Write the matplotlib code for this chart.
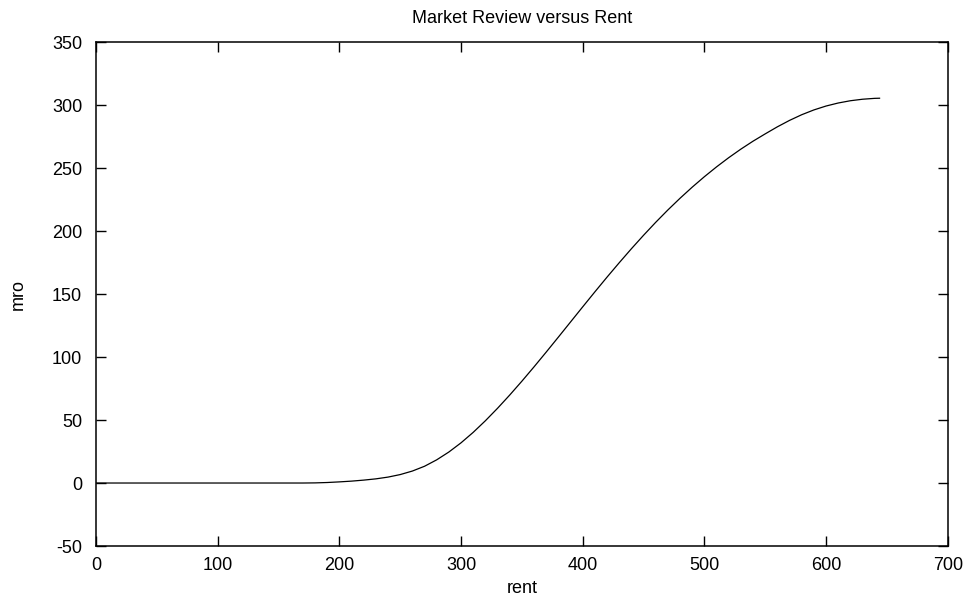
import matplotlib.pyplot as plt
import numpy as np

plt.rcParams['font.family'] = ['Liberation Sans', 'DejaVu Sans']
plt.rcParams['axes.unicode_minus'] = False

rent = [0, 10, 20, 30, 40, 50, 60, 70, 80, 90, 100, 110, 120, 130, 140, 150,
        160, 170, 180, 190, 200, 210, 220, 230, 240, 250, 260, 270, 280, 290,
        300, 310, 320, 330, 340, 350, 360, 370, 380, 390, 400, 410, 420, 430,
        440, 450, 460, 470, 480, 490, 500, 510, 520, 530, 540, 550, 560, 570,
        580, 590, 600, 610, 620, 630, 640, 644]
mro = [0, 0, 0, 0, 0, 0, 0, 0, 0, 0, 0, 0, 0, 0, 0, 0,
       0, 0, 0.1, 0.4, 0.9, 1.5, 2.3, 3.3, 4.7, 6.7, 9.5, 13.3, 18.4, 24.6,
       31.9, 40.2, 49.4, 59.3, 69.8, 80.8, 92.2, 103.9, 115.8, 127.8, 139.8, 151.7, 163.4, 174.8,
       185.9, 196.6, 206.9, 216.7, 226.0, 234.8, 243.1, 250.9, 258.2, 265.0, 271.3, 277.1, 282.7, 287.8,
       292.3, 296.1, 299.2, 301.6, 303.4, 304.6, 305.3, 305.4]

fig = plt.figure(figsize=(9.7, 5.97), dpi=100)
ax = fig.add_axes([0.099, 0.0854, 0.878, 0.8442])
ax.plot(rent, mro, color='black', linewidth=0.9)

ax.set_xlim(0, 700)
ax.set_ylim(-50, 350)
ax.set_xticks(np.arange(0, 701, 100))
ax.set_yticks(np.arange(-50, 351, 50))
ax.tick_params(direction='in', length=7, width=1, top=True, right=True,
               labelsize=13)
ax.tick_params(axis='y', pad=10)
ax.tick_params(axis='x', pad=8)
for s in ax.spines.values():
    s.set_linewidth(1.1)

ax.set_title('Market Review versus Rent', fontsize=13, pad=14)
ax.set_xlabel('rent', fontsize=13, labelpad=4)
ax.set_ylabel('mro', fontsize=13, labelpad=18)

fig.savefig('out.png', dpi=100)
